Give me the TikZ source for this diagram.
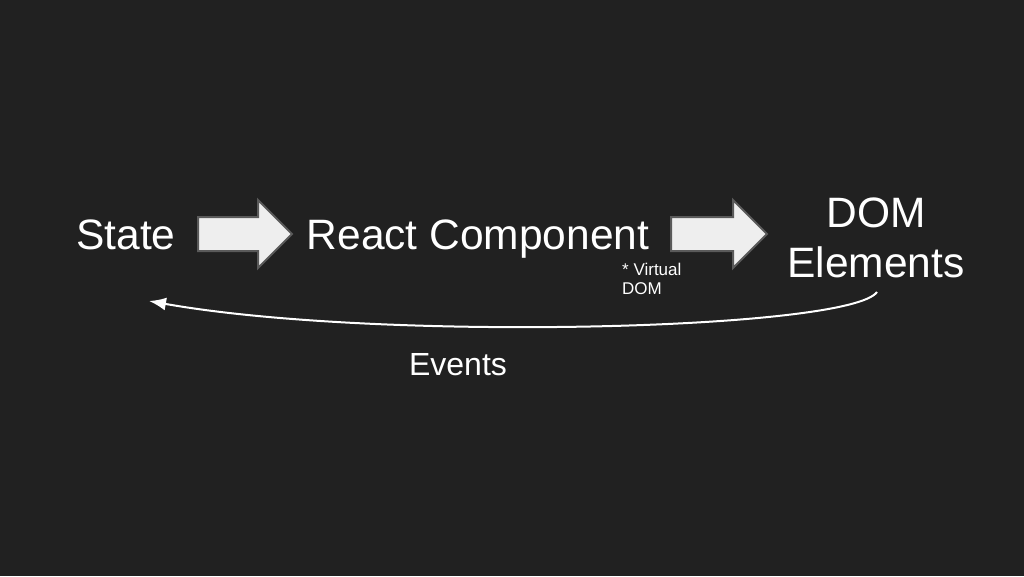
\documentclass[tikz,border=0pt]{standalone}
\usepackage{fontspec}
\setmainfont{Liberation Sans}
\usetikzlibrary{arrows.meta,shapes.arrows,positioning}
\definecolor{slideColor}{RGB}{33,33,33}
\definecolor{blockColor}{RGB}{238,238,238}
\definecolor{edgeColor}{RGB}{90,90,90}
\tikzset{slideText/.style={text=white, inner sep=0pt, font=\fontsize{42.5}{50}\selectfont, align=center}}
\tikzset{note/.style={slideText, font=\fontsize{17}{18.5}\selectfont, align=left}}
\tikzset{block/.style={single arrow, fill=blockColor, draw=edgeColor, line width=2pt, inner sep=0pt, text height=32pt, text depth=0pt, minimum height=94pt, single arrow head extend=17pt, anchor=tail}}
\tikzstyle{arrow} = [draw=white, line width=2pt, -{Latex[length=17pt,width=13pt]}]

\begin{document}
\begin{tikzpicture}[x=1pt,y=-1pt]
	% Background
	\fill[slideColor] (0,0) rectangle (1024,576);
	\useasboundingbox (0,0) rectangle (1024,576);

	% Nodes
	\node (state) [slideText, anchor=base] at (126,249) {State};
	\node (component) [slideText, anchor=base] at (478,249) {React Component};
	\node (dom) [slideText, anchor=base] at (876,277) {DOM\\Elements};
	\node (virtual) [note, anchor=base west] at (622,294) {* Virtual\\DOM};
	\node (events) [slideText, font=\fontsize{32}{38}\selectfont, anchor=base] at (458,375) {Events};

	\node (toComponent) [block] at (197,234) {};
	\node (toDom) [block, minimum height=96pt] at (670,234) {};

	% Connectors
	\coordinate (evStart) at (877,292);
	\coordinate (evEnd) at (149,301);
	\draw [arrow] (evStart) .. controls (850,330) and (380,342) .. (evEnd);

\end{tikzpicture}
\end{document}
